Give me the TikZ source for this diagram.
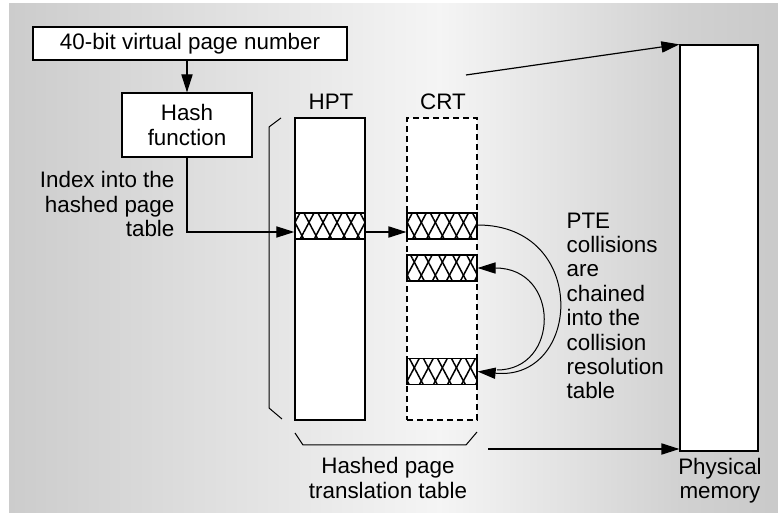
\documentclass[tikz,border=0pt]{standalone}
\usepackage{fontspec}
\setmainfont{Liberation Sans}
\usetikzlibrary{arrows.meta,patterns.meta}

\begin{document}
\begin{tikzpicture}[x=0.5pt,y=-0.5pt,>={Triangle[length=9pt,width=5.6pt]},line width=0.6pt,
  font={\fontsize{11.2}{12.2}\selectfont},
  box node/.style={draw,fill=white,inner sep=0pt,align=center},
  table node/.style={draw,fill=white,minimum width=35pt,minimum height=151pt,inner sep=0pt},
  entry node/.style={draw,minimum width=35pt,minimum height=13pt,inner sep=0pt,
    pattern={Lines[angle=62,distance=6.2pt,line width=0.75pt]},
    postaction={pattern={Lines[angle=118,distance=6.2pt,line width=0.75pt]}}},
  text node/.style={inner sep=0pt}]
  \useasboundingbox (0,0) rectangle (778,513);
  \shade[left color=black!20,right color=black!4] (9,4) rectangle (440,513);
  \shade[left color=black!4,right color=black!18] (440,4) rectangle (680,513);
  \shade[left color=black!18,right color=black!21] (680,4) rectangle (778,513);

  \node[box node,minimum width=157pt,minimum height=16.5pt] (vpn) at (190,43.5) {40-bit virtual page number};
  \node[box node,minimum width=65pt,minimum height=32pt] (hash) at (187,125) {Hash\\function};
  \node[text node,anchor=east,align=right] (idx) at (175,204) {Index into the\\hashed page\\table};
  \node[table node] (hpt) at (330,269) {};
  \node[table node,dash pattern=on 3pt off 2pt] (crt) at (442,269) {};
  \node[text node] (hptlbl) at (331,102) {HPT};
  \node[text node] (crtlbl) at (443,102) {CRT};
  \node[entry node] (h1) at (330,226) {};
  \node[entry node] (c1) at (442,226) {};
  \node[entry node] (c2) at (442,268) {};
  \node[entry node] (c3) at (442,371.5) {};
  \node[box node,minimum width=39pt,minimum height=203pt] (phys) at (719,248) {};
  \node[text node,align=center] (physlbl) at (720,481) {Physical\\memory};
  \node[text node,align=center] (hpttlbl) at (388,478) {Hashed page\\translation table};
  \node[text node,anchor=west,align=left] (pte) at (566,306) {PTE\\collisions\\are\\chained\\into the\\collision\\resolution\\table};

  \coordinate (toptail) at (466,75);
  \coordinate (bottail) at (488,449);
  \coordinate (split) at (497,370);

  % braces round the two tables
  \draw[line width=0.5pt] (281,118) -- (269,127) -- (269,408) -- (282,419);
  \draw[line width=0.5pt] (295,433) -- (303,445) -- (466,445) -- (477,432);

  \draw[->] (vpn.south -| hash.north) -- (hash.north);
  \draw[->] (hash.south) |- ([yshift=-3pt]h1.west);
  \draw[->] ([yshift=-3pt]h1.east) -- ([yshift=-3pt]c1.west);
  \draw[->,line width=0.5pt] ([yshift=0.5pt]c1.east) .. controls +(112,0) and +(104,10) .. (c3.east);
  \draw[->,line width=0.5pt] (split) .. controls +(63,0) and +(83,0) .. (c2.east);
  \draw[->] (toptail) -- (phys.north west);
  \draw[->] (bottail) -- (bottail -| phys.west);
\end{tikzpicture}
\end{document}
